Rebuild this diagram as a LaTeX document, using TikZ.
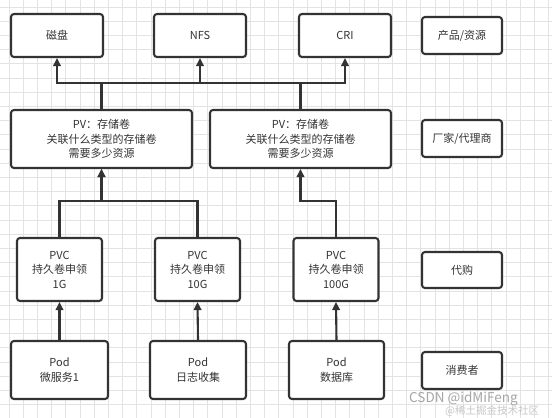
\documentclass[tikz,border=0pt]{standalone}
\usepackage{fontspec}
\setmainfont{Noto Sans CJK SC}
\usetikzlibrary{arrows.meta}
\definecolor{ink}{HTML}{333333}
\definecolor{gridc}{HTML}{E3E3E3}
\begin{document}
\begin{tikzpicture}[x=1pt,y=-1pt,
  box/.style={draw=ink, line width=2.1pt, rounded corners=3pt, fill=white,
    align=center, inner sep=0pt, text=ink,
    font=\fontsize{11}{14.5}\selectfont},
  arr/.style={draw=ink, line width=2.1pt, -{Triangle[length=8pt,width=7.5pt]}},
  ln/.style={draw=ink, line width=2.1pt},
  gridline/.style={draw=gridc, line width=0.8pt}]
\useasboundingbox (0,0) rectangle (552,418);
\fill[white] (0,0) rectangle (552,418);
\foreach \i in {0,...,38} { \draw[gridline] ({9+14.2*\i},0) -- ({9+14.2*\i},418); }
\foreach \j in {0,...,29} { \draw[gridline] (0,{7+14.2*\j}) -- (552,{7+14.2*\j}); }

% top row
\node[box, minimum width=92pt, minimum height=43pt] (disk) at (57,35.5) {磁盘};
\node[box, minimum width=92pt, minimum height=43pt] (nfs) at (200,35.5) {NFS};
\node[box, minimum width=92pt, minimum height=43pt] (cri) at (345,35.5) {CRI};
\node[box, minimum width=80pt, minimum height=37pt] (lab1) at (462,35.5) {产品/资源};

% PV row
\node[box, minimum width=181pt, minimum height=58pt] (pvL) at (101.5,139) {PV：存储卷\\关联什么类型的存储卷\\需要多少资源};
\node[box, minimum width=181pt, minimum height=58pt] (pvR) at (300.5,139) {PV：存储卷\\关联什么类型的存储卷\\需要多少资源};
\node[box, minimum width=80pt, minimum height=37pt] (lab2) at (462,138.5) {厂家/代理商};

% PVC row
\node[box, minimum width=85pt, minimum height=63pt] (pvcL) at (59.5,269.5) {PVC\\持久卷申领\\1G};
\node[box, minimum width=85pt, minimum height=63pt] (pvcM) at (197.5,269.5) {PVC\\持久卷申领\\10G};
\node[box, minimum width=85pt, minimum height=63pt] (pvcR) at (336,269.5) {PVC\\持久卷申领\\100G};
\node[box, minimum width=80pt, minimum height=36pt] (lab3) at (462,270) {代购};

% Pod row
\node[box, minimum width=97pt, minimum height=58pt] (podL) at (59.5,370) {Pod\\微服务1};
\node[box, minimum width=96pt, minimum height=58pt] (podM) at (198,370) {Pod\\日志收集};
\node[box, minimum width=95pt, minimum height=58pt] (podR) at (336.5,370) {Pod\\数据库};
\node[box, minimum width=80pt, minimum height=37pt] (lab4) at (462,370.5) {消费者};

% bus coordinates
\coordinate (busT) at (0,83);
\coordinate (busB) at (0,201);

% PV -> products
\draw[ln] (disk.south |- busT) -- (cri.south |- busT);
\draw[arr] (pvL.north) -- (pvL.north |- busT) -| (disk.south);
\draw[arr] (pvL.north) -- (pvL.north |- busT) -| (nfs.south);
\draw[arr] (pvR.north) -- (pvR.north |- busT) -| (cri.south);

% PVC -> PV
\draw[arr] (pvcL.north) -- (pvcL.north |- busB) -| (pvL.south);
\draw[arr] (pvcM.north) -- (pvcM.north |- busB) -| (pvL.south);
\draw[arr] (pvcR.north) -- (pvcR.north |- busB) -| (pvR.south);

% Pod -> PVC
\draw[arr] (podL.north) -- (pvcL.south);
\draw[arr] (podM.north) -- (pvcM.south);
\draw[arr] (podR.north) -- (pvcR.south);

% watermark
\node[text=black!35, font=\fontsize{13.5}{15}\selectfont, inner sep=0pt, anchor=west] (wm1) at (409,399) {CSDN @idMiFeng};
\node[text=black!22, font=\fontsize{10.5}{12}\selectfont, inner sep=0pt, anchor=west] (wm2) at (445,411) {@稀土掘金技术社区};
\end{tikzpicture}
\end{document}
